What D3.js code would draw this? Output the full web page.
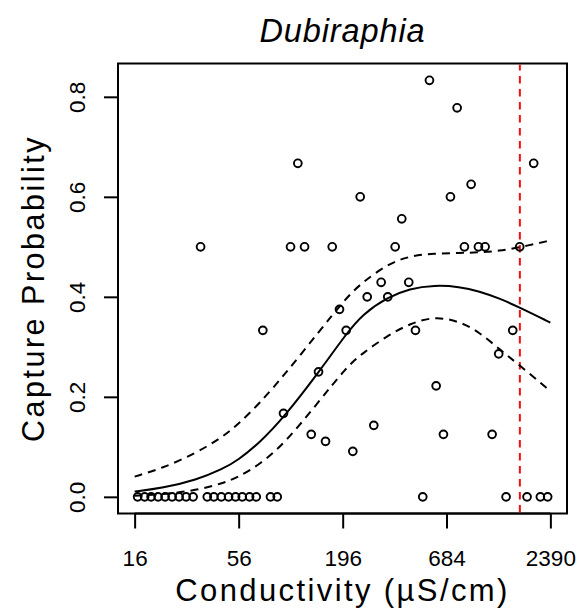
<!DOCTYPE html>
<html><head><meta charset="utf-8">
<script src="https://cdn.jsdelivr.net/npm/d3@7"></script>
<style>body{margin:0;background:#fff}svg{display:block}</style>
</head><body>
<script>
const chartTitle = "Dubiraphia";
const xTitle = "Conductivity (µS/cm)";
const yTitle = "Capture Probability";
const xTicks = [16, 56, 196, 684, 2390];
const xTickLabels = ["16", "56", "196", "684", "2390"];
const yTicks = [0, 0.2, 0.4, 0.6, 0.8];
const yTickLabels = ["0.0", "0.2", "0.4", "0.6", "0.8"];
const xLimits = [16, 2390];
const yLimits = [0, 0.8333];

// observed capture probabilities
const obsCond = [16.59, 18.05, 19.51, 21.23, 23.09, 25.13, 27.33, 29.74, 32.35, 38.38, 41.55, 45.43, 49.60, 53.95, 58.48, 63.86, 69.21, 82.18, 89.11, 514.0, 1402, 1805, 2119, 2313,
  35.40, 74.93, 96.1, 104.6, 114.2, 123.8, 134.2, 146.5, 159.4, 172.8, 188.6, 204.4, 221.4, 242.0, 263.3, 285.0, 311.5, 337.3, 368.7, 399.2, 434.3, 470.8,
  557.2, 604.0, 659.4, 717.4, 777.6, 848.9, 920.2, 1005, 1089, 1185, 1283, 1519, 1652, 1955];
const obsProb = [0, 0, 0, 0, 0, 0, 0, 0, 0, 0, 0, 0, 0, 0, 0, 0, 0, 0, 0, 0, 0, 0, 0, 0,
  0.5, 0.333, 0.167, 0.5, 0.667, 0.5, 0.125, 0.25, 0.111, 0.5, 0.375, 0.333, 0.091, 0.6, 0.4, 0.143, 0.429, 0.4, 0.5, 0.556, 0.429, 0.333,
  0.833, 0.222, 0.125, 0.6, 0.778, 0.5, 0.625, 0.5, 0.5, 0.125, 0.286, 0.333, 0.5, 0.667];

// fitted curve and confidence band
const curveCond = [16, 22.4, 33.7, 46.1, 55.3, 72.0, 97.3, 146.5, 205.2, 248.8, 336.1, 437.9, 591.8, 799.6, 1017, 1293, 1646, 2390];
const fitProb   = [0.0106, 0.0174, 0.0337, 0.0555, 0.0728, 0.1079, 0.1604, 0.2486, 0.3268, 0.3651, 0.399, 0.4166, 0.4235, 0.4204, 0.411, 0.397, 0.379, 0.3485];
const upperProb = [0.0405, 0.0573, 0.0878, 0.1199, 0.1438, 0.1869, 0.2442, 0.329, 0.3988, 0.4291, 0.465, 0.4818, 0.4868, 0.4878, 0.4888, 0.4918, 0.4988, 0.5127];
const lowerProb = [0.002, 0.0048, 0.013, 0.0269, 0.0389, 0.0644, 0.1067, 0.1895, 0.2594, 0.2873, 0.3222, 0.3461, 0.3611, 0.3511, 0.3292, 0.2953, 0.2634, 0.2115];

const thresholdCond = 1655;

const W = 582, H = 610;
const plot = {left: 118, right: 567, top: 63.5, bottom: 513.5};
const font = "'Liberation Sans', Arial, Helvetica, sans-serif";

const svg = d3.select("body").append("svg").attr("width", W).attr("height", H);

const lx0 = Math.log10(xLimits[0]), lx1 = Math.log10(xLimits[1]);
const padX = 0.04 * (lx1 - lx0);
const x = d3.scaleLog().domain([Math.pow(10, lx0 - padX), Math.pow(10, lx1 + padX)]).range([plot.left, plot.right]);
const padY = 0.04 * (yLimits[1] - yLimits[0]);
const y = d3.scaleLinear().domain([yLimits[0] - padY, yLimits[1] + padY]).range([plot.bottom, plot.top]);

// box
svg.append("rect").attr("x", plot.left).attr("y", plot.top)
  .attr("width", plot.right - plot.left).attr("height", plot.bottom - plot.top)
  .attr("fill", "none").attr("stroke", "#000").attr("stroke-width", 2);

// x axis
const xAxis = d3.axisBottom(x).tickValues(xTicks).tickFormat((d, i) => xTickLabels[i]).tickSize(15);
const gx = svg.append("g").attr("transform", `translate(0,${plot.bottom})`).call(xAxis);
gx.select(".domain").attr("d", `M${x(xTicks[0])},0H${x(xTicks[xTicks.length-1])}`).attr("stroke-width", 2);
gx.selectAll(".tick line").attr("stroke-width", 2);
gx.selectAll(".tick text").attr("font-family", font).attr("font-size", 22.5).attr("fill", "#000")
  .attr("y", 566 - plot.bottom).attr("dy", null);

// y axis
const yAxis = d3.axisLeft(y).tickValues(yTicks).tickFormat((d, i) => yTickLabels[i]).tickSize(14);
const gy = svg.append("g").attr("transform", `translate(${plot.left},0)`).call(yAxis);
gy.select(".domain").attr("d", `M0,${y(yTicks[0])}V${y(yTicks[yTicks.length-1])}`).attr("stroke-width", 2);
gy.selectAll(".tick line").attr("stroke-width", 2);
gy.selectAll(".tick text").attr("font-family", font).attr("font-size", 22.5).attr("fill", "#000")
  .attr("x", null).attr("dy", null)
  .attr("text-anchor", "middle")
  .attr("transform", `translate(${85 - plot.left},0) rotate(-90)`);

// threshold line
svg.append("line")
  .attr("x1", x(thresholdCond)).attr("x2", x(thresholdCond))
  .attr("y1", plot.bottom - 1).attr("y2", plot.top + 1)
  .attr("stroke", "#f01010").attr("stroke-width", 2).attr("stroke-dasharray", "7.5,5.5");

// curves
const line = d3.line().x(d => x(d[0])).y(d => y(d[1])).curve(d3.curveBasis);
const mk = arr => curveCond.map((c, i) => [c, arr[i]]);
svg.append("path").attr("d", line(mk(fitProb))).attr("fill", "none").attr("stroke", "#000").attr("stroke-width", 2);
svg.append("path").attr("d", line(mk(upperProb))).attr("fill", "none").attr("stroke", "#000").attr("stroke-width", 2).attr("stroke-dasharray", "8,6");
svg.append("path").attr("d", line(mk(lowerProb))).attr("fill", "none").attr("stroke", "#000").attr("stroke-width", 2).attr("stroke-dasharray", "8,6");

// points
svg.append("g").selectAll("circle").data(obsCond.map((c, i) => [c, obsProb[i]])).join("circle")
  .attr("cx", d => x(d[0])).attr("cy", d => y(d[1])).attr("r", 3.9)
  .attr("fill", "none").attr("stroke", "#000").attr("stroke-width", 1.9);

// titles
svg.append("text").attr("x", (plot.left + plot.right) / 2).attr("y", 42)
  .attr("text-anchor", "middle").attr("font-family", font).attr("font-style", "italic")
  .attr("font-size", 32.5).attr("letter-spacing", 0.9).text(chartTitle);
svg.append("text").attr("x", (plot.left + plot.right) / 2).attr("y", 601)
  .attr("text-anchor", "middle").attr("font-family", font).attr("font-size", 31)
  .attr("letter-spacing", 2.4).text(xTitle);
svg.append("text").attr("transform", `translate(44,${(plot.top + plot.bottom) / 2}) rotate(-90)`)
  .attr("text-anchor", "middle").attr("font-family", font).attr("font-size", 30.5)
  .attr("letter-spacing", 2.5).text(yTitle);
</script>
</body></html>
